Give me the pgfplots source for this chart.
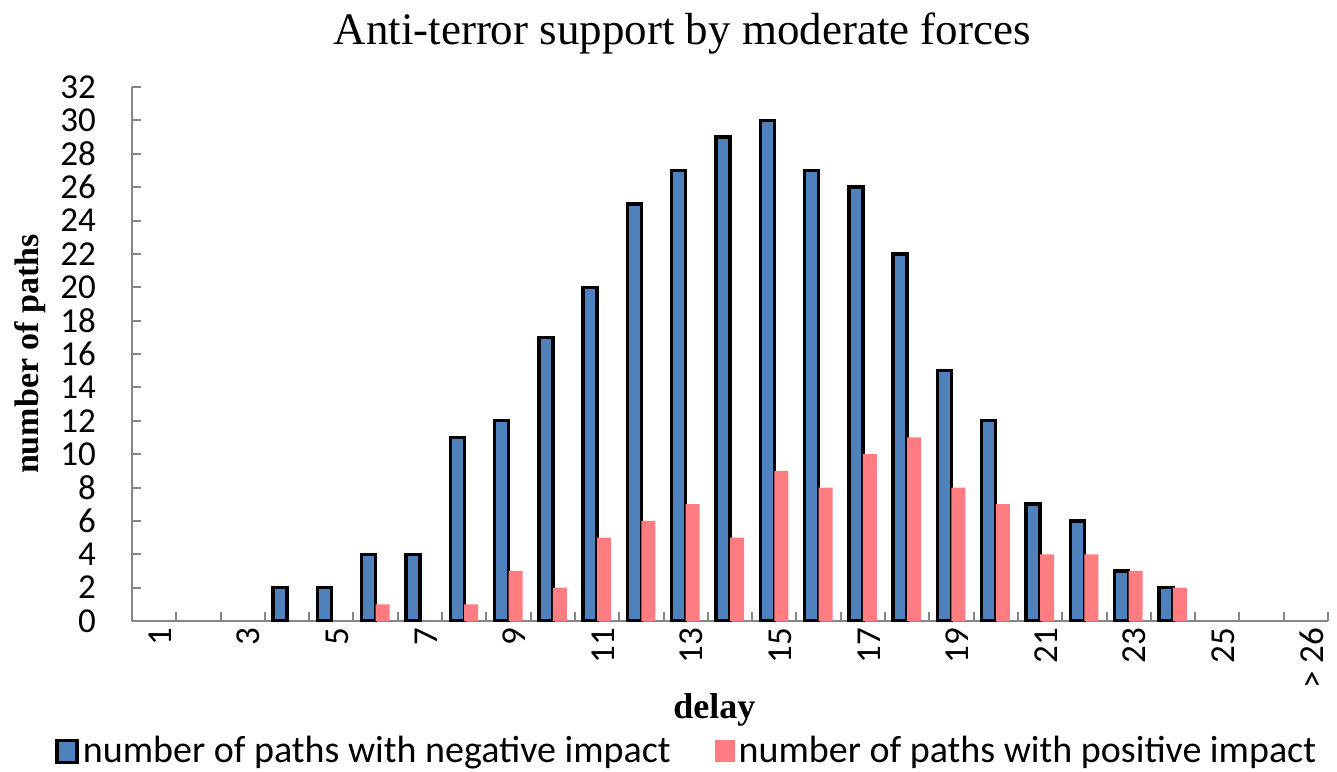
\documentclass[border=0pt]{standalone}
\usepackage{pgfplots}
\pgfplotsset{compat=1.18}
\usepackage{fontspec}
\setmainfont{Liberation Serif}
\newfontfamily\calibri{Carlito}
\definecolor{negblue}{RGB}{79,129,189}
\definecolor{pospink}{RGB}{255,124,128}
\definecolor{axgray}{RGB}{134,134,134}

\begin{document}
\begin{tikzpicture}
\path[use as bounding box] (-66pt,-75pt) rectangle (602.5pt,310.5pt);
\begin{axis}[
  at={(0pt,0pt)}, anchor=south west,
  scale only axis, width=598pt, height=267pt,
  ybar=0pt, bar width=7pt,
  xmin=0.5, xmax=27.5, ymin=0, ymax=32,
  axis x line*=bottom, axis y line*=left,
  axis line style={axgray, line width=1pt},
  tick align=inside,
  major tick length=4.5pt,
  tick style={axgray, line width=1pt},
  ytick={0,2,...,32},
  xtick={0.5,1.5,...,27.5},
  xticklabels={},
  extra x ticks={1,3,5,7,9,11,13,15,17,19,21,23,25,27},
  extra x tick labels={1,3,5,7,9,11,13,15,17,19,21,23,25,{> 26}},
  extra x tick style={major tick length=0pt},
  /pgf/number format/assume math mode=true,
  yticklabel style={font=\calibri\fontsize{17.5}{20}\selectfont, xshift=-14.5pt},
  xticklabel style={font=\calibri\fontsize{17.5}{20}\selectfont, rotate=90, anchor=east, yshift=-3pt},
  title={Anti-terror support by moderate forces},
  title style={font=\fontsize{22.5}{27}\selectfont, at={(axis description cs:0.46,1.058)}, anchor=base},
  xlabel={delay},
  xlabel style={font=\bfseries\fontsize{18}{21}\selectfont, at={(axis description cs:0.487,-0.167)}, anchor=center},
  ylabel={number of paths},
  ylabel style={font=\bfseries\fontsize{17}{20}\selectfont, at={(axis description cs:-0.0853,0.5)}, anchor=center},
  legend columns=2,
  legend style={draw=none, fill=none, at={(axis description cs:-0.0644,-0.244)}, anchor=west,
    inner sep=0pt, font=\calibri\fontsize{19}{22}\selectfont,
    nodes={inner sep=2pt},
    /tikz/every even column/.append style={column sep=20pt}},
]
\addplot[fill=negblue, draw=black, line width=1.7pt,
  legend image code/.code={\draw[fill=negblue,draw=black,line width=1.8pt] (0pt,-5.5pt) rectangle (10pt,5.5pt);}]
  coordinates {(4,2)(5,2)(6,4)(7,4)(8,11)(9,12)(10,17)(11,20)(12,25)(13,27)(14,29)(15,30)(16,27)(17,26)(18,22)(19,15)(20,12)(21,7)(22,6)(23,3)(24,2)};
\addplot[fill=pospink, draw=none,
  legend image code/.code={\fill[pospink] (0pt,-5.5pt) rectangle (10pt,5.5pt);}]
  coordinates {(6,1)(8,1)(9,3)(10,2)(11,5)(12,6)(13,7)(14,5)(15,9)(16,8)(17,10)(18,11)(19,8)(20,7)(21,4)(22,4)(23,3)(24,2)};
\legend{number of paths with negative impact, number of paths with positive impact}
\end{axis}
\end{tikzpicture}
\end{document}
